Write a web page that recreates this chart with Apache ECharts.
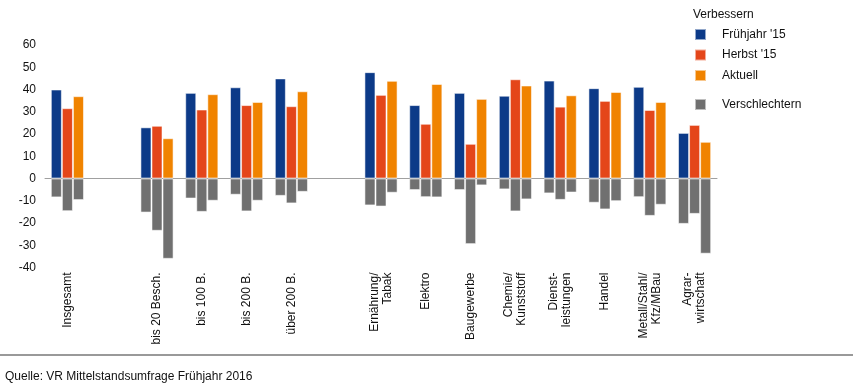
<!DOCTYPE html>
<html><head><meta charset="utf-8">
<script src="https://cdn.jsdelivr.net/npm/echarts@6/dist/echarts.min.js"></script>
<style>html,body{margin:0;padding:0;background:#fff}#c{width:853px;height:391px}</style>
</head><body><div id="c"></div>
<script>
const categories = ['Insgesamt', ' ', 'bis 20 Besch.', 'bis 100 B.', 'bis 200 B.', 'über 200 B.', '  ',
  'Ernährung/\nTabak', 'Elektro', 'Baugewerbe', 'Chemie/\nKunststoff', 'Dienst-\nleistungen', 'Handel',
  'Metall/Stahl/\nKfz/MBau', 'Agrar-\nwirtschaft'];
const fruehjahr15 = [40, null, 23, 38.5, 41, 45, null, 47.8, 33, 38.5, 37.2, 44, 40.6, 41.2, 20.5];
const herbst15 = [31.6, null, 23.7, 31, 33, 32.5, null, 37.6, 24.6, 15.6, 44.6, 32.3, 34.9, 30.8, 24.1];
const aktuell = [37, null, 18.1, 37.9, 34.4, 39.2, null, 43.9, 42.5, 35.8, 41.8, 37.4, 38.9, 34.4, 16.5];
const verschlFruehjahr15 = [-8.5, null, -15.3, -9, -7.3, -7.8, null, -12.1, -5.2, -5.2, -4.9, -6.7, -10.9, -8.4, -20.4];
const verschlHerbst15 = [-14.7, null, -23.5, -15, -14.8, -11.2, null, -12.6, -8.4, -29.5, -14.8, -9.6, -13.9, -16.8, -15.9];
const verschlAktuell = [-9.7, null, -36.1, -10, -10, -6, null, -6.4, -8.5, -3.1, -9.4, -6.3, -10.2, -11.8, -33.8];
const yMin = -40, yMax = 60, yStep = 10;

const font = 'Arial, "Liberation Sans", sans-serif';
const cBlue = '#0c3a88', cRed = '#e4461a', cOrange = '#f08300', cGray = '#707070';
const border = {borderColor: 'rgba(255,255,255,0.55)', borderWidth: 1};
function bar(name, data, stack, color) {
  return {name, type: 'bar', data, stack, barGap: 0, barCategoryGap: '26%',
    itemStyle: Object.assign({color}, border), emphasis: {disabled: true}};
}
const chart = echarts.init(document.getElementById('c'), null, {renderer: 'canvas'});
chart.setOption({
  animation: false,
  textStyle: {fontFamily: font},
  grid: {left: 45, right: 136, top: 45, bottom: 123.5},
  title: [
    {text: 'Verbessern', left: 688, top: 4, textStyle: {fontSize: 12, fontWeight: 'normal', color: '#111', fontFamily: font}},
    {text: 'Quelle: VR Mittelstandsumfrage Frühjahr 2016', left: 0, top: 366, textStyle: {fontSize: 12, fontWeight: 'normal', color: '#111', fontFamily: font}}
  ],
  graphic: [{type: 'line', shape: {x1: 0, y1: 355, x2: 853, y2: 355}, style: {stroke: '#999', lineWidth: 2}}],
  legend: [
    {data: ["Frühjahr '15", "Herbst '15", 'Aktuell'], orient: 'vertical', left: 689, top: 23,
      itemWidth: 11, itemHeight: 11, itemGap: 7.5, icon: 'rect',
      textStyle: {fontSize: 12, color: '#111', padding: [0, 0, 0, 11], fontFamily: font}},
    {data: ['Verschlechtern'], orient: 'vertical', left: 689, top: 93,
      itemWidth: 11, itemHeight: 11, icon: 'rect',
      textStyle: {fontSize: 12, color: '#111', padding: [0, 0, 0, 11], fontFamily: font}}
  ],
  xAxis: [
    {type: 'category', data: categories, axisLine: {show: false, onZero: false}, axisTick: {show: false},
      axisLabel: {interval: 0, rotate: 90, fontSize: 12, color: '#111', margin: 5, lineHeight: 13, fontFamily: font}},
    {type: 'category', data: categories, position: 'bottom', axisLine: {show: true, onZero: true, lineStyle: {color: '#a0a0a0', width: 1}},
      axisTick: {show: false}, axisLabel: {show: false}}
  ],
  yAxis: {type: 'value', min: yMin, max: yMax, interval: yStep, axisLine: {show: false}, axisTick: {show: false},
    splitLine: {show: false}, axisLabel: {fontSize: 12, color: '#111', margin: 9, fontFamily: font}},
  series: [
    bar("Frühjahr '15", fruehjahr15, 'a', cBlue),
    bar("Herbst '15", herbst15, 'b', cRed),
    bar('Aktuell', aktuell, 'c', cOrange),
    bar('Verschlechtern', verschlFruehjahr15, 'a', cGray),
    bar('Verschlechtern', verschlHerbst15, 'b', cGray),
    bar('Verschlechtern', verschlAktuell, 'c', cGray)
  ]
});
</script></body></html>
